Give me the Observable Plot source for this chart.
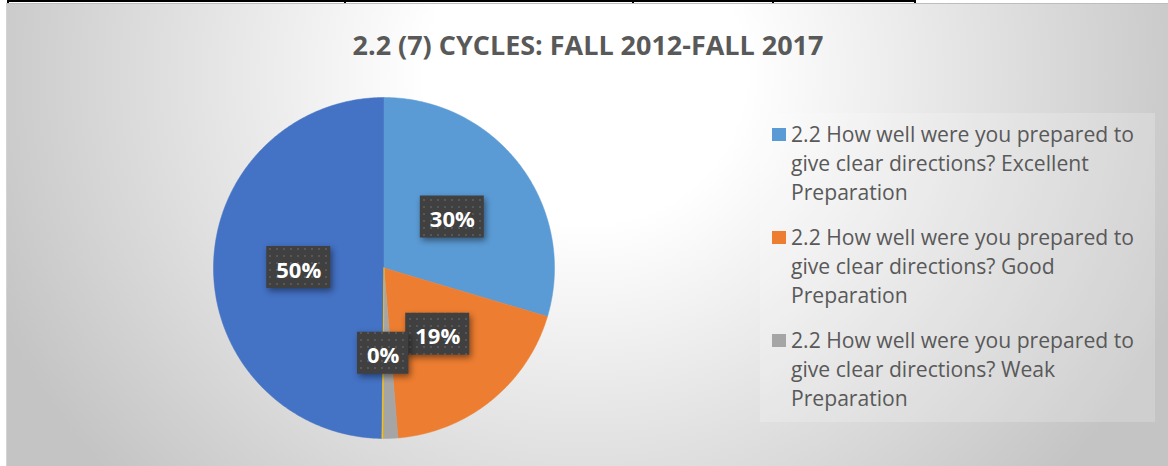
<!DOCTYPE html>
<html><head><meta charset="utf-8">
<script src="https://cdn.jsdelivr.net/npm/d3@7"></script>
<script src="https://cdn.jsdelivr.net/npm/@observablehq/plot@0.6"></script>
<style>
html,body{margin:0;padding:0;background:#fff;}
#wrap{position:relative;width:1168px;height:466px;overflow:hidden;}
#area{position:absolute;left:6px;top:3px;right:0;bottom:0;border-left:1px solid #d4d4d4;border-top:1px solid #bdbdbd;
  background:radial-gradient(ellipse 640px 600px at 578px 70px,#ffffff 25%,#c4c4c4 100%);}
.tl{position:absolute;background:#000;}
#chart{position:absolute;left:0;top:0;}
#chart svg g[aria-label="rect"]{filter:drop-shadow(2px 3px 3px rgba(0,0,0,0.45));}
</style></head>
<body>
<div id="wrap">
  <div id="area"></div>
  <div class="tl" style="left:7px;top:0;width:909px;height:2px"></div>
  <div class="tl" style="left:7px;top:0;width:2px;height:3px"></div>
  <div class="tl" style="left:344px;top:0;width:2px;height:3px"></div>
  <div class="tl" style="left:632px;top:0;width:2px;height:3px"></div>
  <div class="tl" style="left:772px;top:0;width:2px;height:3px"></div>
  <div class="tl" style="left:914px;top:0;width:2px;height:3px"></div>
  <div id="chart"></div>
</div>
<script>
const title = "2.2 (7) CYCLES: FALL 2012-FALL 2017";
const categories = [
  "2.2 How well were you prepared to give clear directions? Excellent Preparation",
  "2.2 How well were you prepared to give clear directions? Good Preparation",
  "2.2 How well were you prepared to give clear directions? Weak Preparation",
  "2.2 How well were you prepared to give clear directions? Poor Preparation",
  "2.2 How well were you prepared to give clear directions? Not Applicable"
];
const values = [29.6, 19.1, 1.4, 0.1, 49.8];
const colors = ["#5B9BD5", "#ED7D31", "#A5A5A5", "#FFC000", "#4472C4"];
const labelShown = [true, true, false, true, true];
const legendShown = 3;

const FONT = '"Open Sans", "Noto Sans", sans-serif';
const ctx = document.createElement("canvas").getContext("2d");
function measure(text, weight, size){ ctx.font = `${weight} ${size}px ${FONT}`; return ctx.measureText(text).width; }
function fit(text, weight, target){ return 100 * target / measure(text, weight, 100); }

const total = d3.sum(values);
const pts = [];
const labels = [];
let acc = 0;
const order = d3.range(values.length).sort((a,b)=>values[b]-values[a]);
const arcs = values.map((v,i)=>{ const a0 = acc/total*2*Math.PI; acc += v; const a1 = acc/total*2*Math.PI; return {i, a0, a1}; });
order.forEach(i=>{
  const {a0,a1} = arcs[i];
  const key = categories[i];
  pts.push({key, x:0, y:0});
  const n = Math.max(2, Math.ceil((a1-a0)/(Math.PI/360)));
  for(let k=0;k<=n;k++){ const a=a0+(a1-a0)*k/n; pts.push({key, x:Math.sin(a), y:Math.cos(a)}); }
  pts.push({key, x:0, y:0});
});

const labelFont = fit("30%", "bold", 45);
arcs.forEach(({i,a0,a1})=>{
  if(!labelShown[i]) return;
  const m=(a0+a1)/2;
  const text = Math.round(values[i]/total*100) + "%";
  labels.push({text, lx:0.5*Math.sin(m), ly:0.5*Math.cos(m), w: measure(text,"bold",labelFont)+19});
});

const marks = [
  Plot.line(pts, {x:"x", y:"y", z:"key", fill:"key", stroke:"key", strokeWidth:0.5})
];
labels.forEach(d=>{
  marks.push(Plot.rect([d], {x1:"lx", x2:"lx", y1:"ly", y2:"ly",
    insetLeft:-d.w/2, insetRight:-d.w/2, insetTop:-21, insetBottom:-21, fill:"url(#lblpat)"}));
});
marks.push(Plot.text(labels, {x:"lx", y:"ly", text:"text", fill:"white", fontWeight:"bold",
  fontSize:labelFont, fontFamily:FONT, dy:3}));

const svg = Plot.plot({
  width:1168, height:466, margin:0,
  x:{domain:[-1,1], range:[213,554], axis:null},
  y:{domain:[-1,1], range:[438,97], axis:null},
  color:{domain:categories, range:colors},
  style:{background:"transparent", overflow:"visible"},
  marks
});
document.getElementById("chart").appendChild(svg);

const s = d3.select(svg);
const defs = s.insert("defs", ":first-child");
const pat = defs.append("pattern").attr("id","lblpat").attr("width",7).attr("height",7).attr("patternUnits","userSpaceOnUse");
pat.append("rect").attr("width",7).attr("height",7).attr("fill","#404040");
pat.append("rect").attr("x",3).attr("y",3).attr("width",2).attr("height",2).attr("fill","#575757");

// title
const titleSize = fit(title, "bold", 471);
s.append("text").attr("x",588).attr("y",55).attr("text-anchor","middle")
  .attr("font-family",FONT).attr("font-weight","bold").attr("font-size",titleSize)
  .attr("fill","#595959").text(title);

// legend
const lg = s.append("g").attr("text-anchor","start");
lg.append("rect").attr("x",760).attr("y",113).attr("width",395).attr("height",309).attr("fill","rgba(255,255,255,0.2)");
const legSize = fit("2.2 How well were you prepared to", "normal", 343);
function wrap(str, max){
  const words = str.split(" "); const lines=[]; let cur="";
  words.forEach(w=>{ const t = cur? cur+" "+w : w; if(measure(t,"normal",legSize) > max && cur){ lines.push(cur); cur=w; } else cur=t; });
  if(cur) lines.push(cur); return lines;
}
for(let i=0;i<legendShown;i++){
  const base = 142 + i*103;
  lg.append("rect").attr("x",772).attr("y",base-14).attr("width",14).attr("height",13).attr("fill",colors[i]);
  wrap(categories[i], 352).forEach((line,j)=>{
    lg.append("text").attr("x",791).attr("y",base + j*29).attr("text-anchor","start").attr("font-family",FONT)
      .attr("font-size",legSize).attr("fill","#595959").text(line);
  });
}
</script>
</body></html>
